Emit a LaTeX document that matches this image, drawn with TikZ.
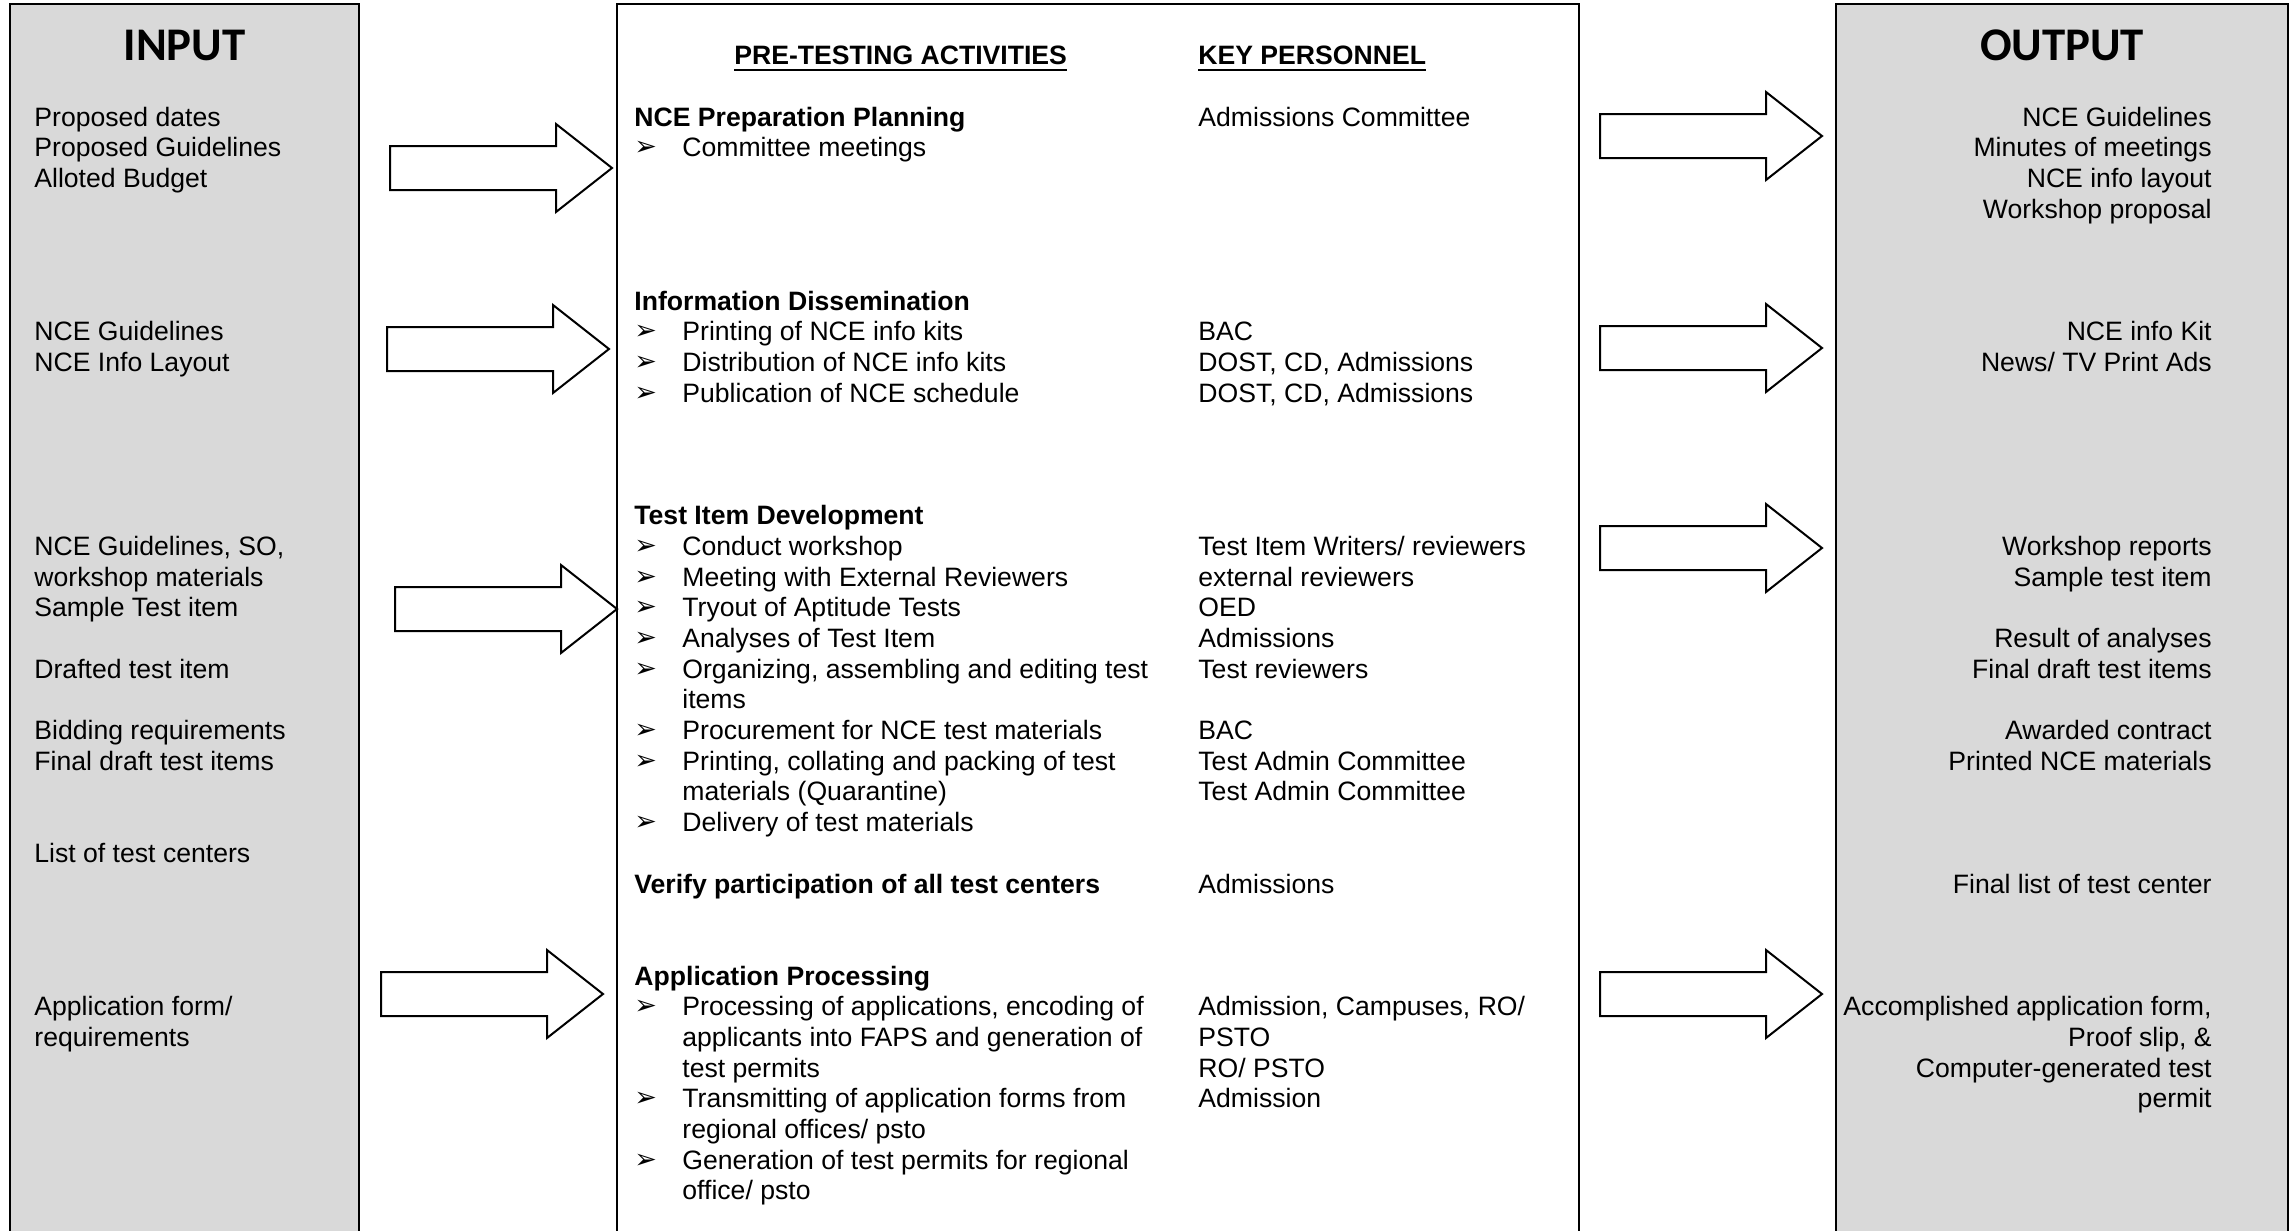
\documentclass[tikz,border=0pt]{standalone}
\usepackage{fontspec}
\setmainfont{Liberation Sans}
\newfontfamily\headfont{Carlito}
\newfontfamily\dingfont{DejaVu Sans}
\usepackage{tikz}

\definecolor{panelgrey}{HTML}{D9D9D9}

\tikzset{
  panel/.style={draw=black, line width=1pt},
  bodytext/.style={inner sep=0pt, font=\fontsize{13.3}{15.3}\selectfont},
  boldtext/.style={bodytext, font=\fontsize{13.3}{15.3}\selectfont\bfseries},
  headtext/.style={inner sep=0pt, anchor=base, font=\headfont\bfseries\fontsize{23.4}{28}\selectfont},
  bullet/.style={inner sep=0pt, anchor=base west, font=\dingfont\fontsize{13.5}{15}\selectfont},
  bigarrow/.pic={
    \draw[line width=1pt, fill=white] (0,-22) -- (166,-22) -- (166,-44) -- (222,0)
      -- (166,44) -- (166,22) -- (0,22) -- cycle;
  }
}

\begin{document}
\begin{tikzpicture}[x=0.5pt, y=-0.5pt]
\useasboundingbox (0,0) rectangle (2291,1231);

% the three columns
\draw[panel, fill=panelgrey] (10,4) rectangle (359,1245);
\draw[panel] (617,4) rectangle (1579,1245);
\draw[panel, fill=panelgrey] (1836,4) rectangle (2288,1245);

\node[headtext] (inhead) at (184.5,60) {INPUT};
\node[headtext] (outhead) at (2062,60) {OUTPUT};

\node[boldtext, anchor=base west] (acthead) at (734,64.6) {PRE-TESTING ACTIVITIES};
\node[boldtext, anchor=base west] (keyhead) at (1198,64.6) {KEY PERSONNEL};
\draw[line width=1.3pt] ([yshift=-2.6pt]acthead.base west) -- ([yshift=-2.6pt]acthead.base east);
\draw[line width=1.3pt] ([yshift=-2.6pt]keyhead.base west) -- ([yshift=-2.6pt]keyhead.base east);

% input
\foreach \k/\txt in {0/Proposed dates, 1/Proposed Guidelines, 2/Alloted Budget,
    7/NCE Guidelines, 8/NCE Info Layout, 14/{NCE Guidelines, SO,},
    15/workshop materials, 16/Sample Test item, 18/Drafted test item,
    20/Bidding requirements, 21/Final draft test items, 24/List of test centers,
    29/{Application form/}, 30/requirements}
  \node[bodytext, anchor=base west] (in-\k) at (34,{126+30.68*\k}) {\txt};

% activities
\foreach \k/\txt in {0/NCE Preparation Planning, 6/Information Dissemination,
    13/Test Item Development, 25/Verify participation of all test centers,
    28/Application Processing}
  \node[boldtext, anchor=base west] (sec-\k) at (634,{126+30.68*\k}) {\txt};

\foreach \k in {1,7,8,9,14,15,16,17,18,20,21,23,29,32,34}
  \node[bullet] (bul-\k) at (634,{125+30.68*\k}) {➢};

\foreach \k/\txt in {1/Committee meetings, 7/Printing of NCE info kits,
    8/Distribution of NCE info kits, 9/Publication of NCE schedule,
    14/Conduct workshop, 15/Meeting with External Reviewers,
    16/Tryout of Aptitude Tests, 17/Analyses of Test Item,
    18/{Organizing, assembling and editing test}, 19/items,
    20/Procurement for NCE test materials,
    21/{Printing, collating and packing of test}, 22/materials (Quarantine),
    23/Delivery of test materials,
    29/{Processing of applications, encoding of},
    30/applicants into FAPS and generation of, 31/test permits,
    32/Transmitting of application forms from, 33/{regional offices/ psto},
    34/Generation of test permits for regional, 35/{office/ psto}}
  \node[bodytext, anchor=base west] (act-\k) at (682,{126+30.68*\k}) {\txt};

% key personnel
\foreach \k/\txt in {0/Admissions Committee, 7/BAC, 8/{DOST, CD, Admissions},
    9/{DOST, CD, Admissions}, 14/{Test Item Writers/ reviewers},
    15/external reviewers, 16/OED, 17/Admissions, 18/Test reviewers, 20/BAC,
    21/Test Admin Committee, 22/Test Admin Committee, 25/Admissions,
    29/{Admission, Campuses, RO/}, 30/PSTO, 31/{RO/ PSTO}, 32/Admission}
  \node[bodytext, anchor=base west] (key-\k) at (1198,{126+30.68*\k}) {\txt};

% output
\foreach \k/\txt in {0/NCE Guidelines, 1/Minutes of meetings, 2/NCE info layout,
    3/Workshop proposal, 7/NCE info Kit, 8/{News/ TV Print Ads},
    14/Workshop reports, 15/Sample test item, 17/Result of analyses,
    18/Final draft test items, 20/Awarded contract, 21/Printed NCE materials,
    25/Final list of test center, 29/{Accomplished application form,},
    30/{Proof slip, \&}, 31/Computer-generated test, 32/permit}
  \node[bodytext, anchor=base east] (out-\k) at (2212,{126+30.68*\k}) {\txt};

% arrows
\foreach \x/\y in {390/168, 387/349, 395/609, 381/994}
  \pic at (\x,\y) {bigarrow};
\foreach \y in {136, 348, 548, 994}
  \pic at (1600,\y) {bigarrow};
\end{tikzpicture}
\end{document}
